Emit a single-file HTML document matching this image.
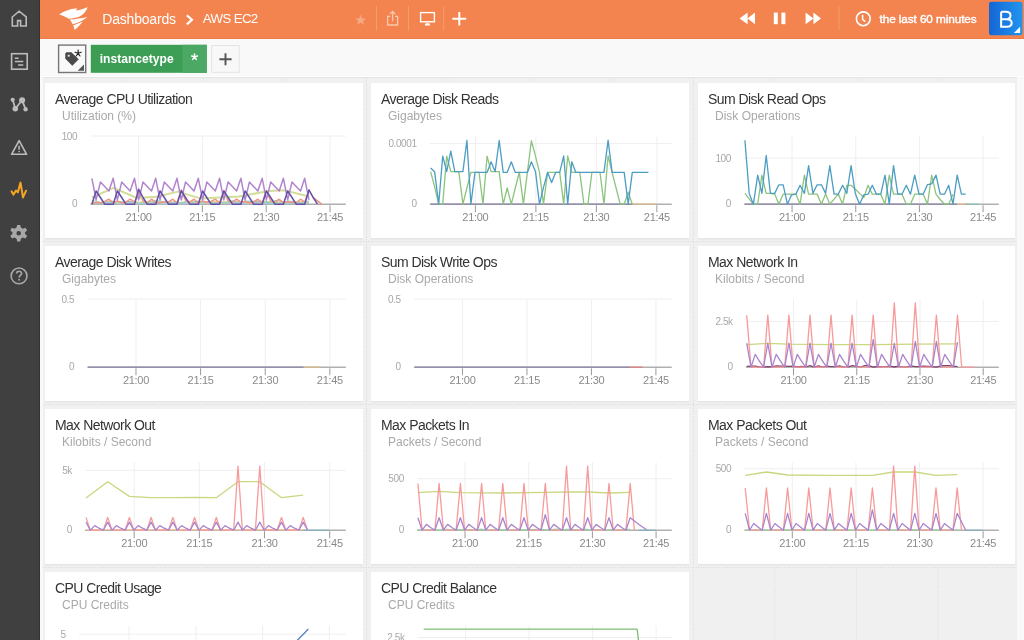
<!DOCTYPE html><html><head><meta charset="utf-8"><style>
*{box-sizing:border-box;margin:0;padding:0}
html,body{width:1024px;height:640px;overflow:hidden;background:#f9f9f9;font-family:"Liberation Sans", sans-serif}
.sb{position:absolute;left:0;top:0;width:40px;height:640px;background:#404040;border-right:1px solid #333}
.hd{position:absolute;will-change:transform;left:40px;top:0;width:984px;height:39px;background:#f3844f;border-bottom:1px solid #ef7a45}
.fb{position:absolute;will-change:transform;left:40px;top:39px;width:984px;height:38px;background:#f9f9f9;border-bottom:1px solid #fff}
.gc{position:absolute;left:43px;top:77px;width:974px;height:563px;background:#f0f0f0;border-top:1px solid #e4e4e4}
.panel{position:absolute;will-change:transform;width:317.6px;height:154.8px;background:#fff;box-shadow:0 1.5px 0 #e6e6e6}
.pt{position:absolute;left:10px;top:8.1px;font-size:14px;color:#333;white-space:nowrap;letter-spacing:-0.55px}
.ps{position:absolute;left:17px;top:26.2px;font-size:12px;color:#a9a9a9;white-space:nowrap}
.ch{position:absolute;left:0;top:0}
.xl{position:absolute;width:40px;text-align:center;font-size:11px;color:#8a8a8a;white-space:nowrap;letter-spacing:-0.3px}
.yl{position:absolute;text-align:right;font-size:10px;letter-spacing:-0.4px;color:#a8a8a8;white-space:nowrap}
.crumb{position:absolute;top:11px;font-size:13.5px;color:#fff;white-space:nowrap}
.tl{position:absolute;left:839.5px;top:11.6px;font-size:11.8px;color:#fff;letter-spacing:-0.1px;-webkit-text-stroke:0.4px #fff;white-space:nowrap}
.bl{position:absolute;left:949px;top:6px;width:33.8px;text-align:center;font-size:23px;color:#fff;line-height:26px}
.it{position:absolute;left:59.7px;top:12.6px;font-size:12.1px;color:#fff;font-weight:bold;white-space:nowrap}
.gv{position:absolute;top:79px;width:0;height:561px;border-left:1px dotted #d4d4d4}
.gh{position:absolute;left:41px;width:983px;height:0;border-top:1px dotted #d4d4d4}
</style></head><body><div class="sb"><svg width="40" height="640" viewBox="0 0 40 640" fill="none" stroke="#bcbcbc" stroke-width="1.6">
<path d="M12.3 26 V17 L19.1 11.2 L26.2 17 V26 H20.6 V20.6 H17.6 V26 Z" stroke-linejoin="miter"/>
<rect x="11.6" y="53.7" width="15.6" height="15.5"/>
<path d="M14.8 58.2 H18.6 M14.8 61.5 H23.3 M18.1 65 H23.3" stroke-width="1.5"/>
<g fill="#bcbcbc" stroke="none"><circle cx="12.7" cy="99.8" r="2.1"/><circle cx="15.3" cy="108.7" r="2.8"/><circle cx="22.1" cy="100.3" r="3"/><circle cx="25.6" cy="109.2" r="2.2"/></g>
<path d="M12.7 99.8 L15.3 108.7 L22.1 100.3 L25.6 109.2" stroke-width="1.8"/>
<path d="M19.1 140.6 L11.6 154.3 H26.6 Z" stroke-linejoin="round"/>
<path d="M19.1 145.8 V149.8" stroke-width="1.5"/><circle cx="19.1" cy="151.6" r="0.8" fill="#bcbcbc" stroke="none"/>
<path d="M11.6 191.4 L13.4 194.6 L16 190.5 L17.9 192.3 L20.5 182.6 L23 197.4 L26.1 190.7" stroke="#f5a623" stroke-width="2" stroke-linecap="round" stroke-linejoin="round"/>
<g transform="translate(18.7 233.2)" fill="#a8a8a8" stroke="none"><path d="M-1.6 -8.3 H1.6 L2.1 -5.6 L4.3 -4.4 L6.8 -5.4 L8.4 -2.6 L6.3 -0.9 V0.9 L8.4 2.6 L6.8 5.4 L4.3 4.4 L2.1 5.6 L1.6 8.3 H-1.6 L-2.1 5.6 L-4.3 4.4 L-6.8 5.4 L-8.4 2.6 L-6.3 0.9 V-0.9 L-8.4 -2.6 L-6.8 -5.4 L-4.3 -4.4 L-2.1 -5.6 Z M0 -2.3 A2.3 2.3 0 1 0 0 2.3 A2.3 2.3 0 1 0 0 -2.3 Z" fill-rule="evenodd"/></g>
<circle cx="19.05" cy="275.9" r="7.9" stroke="#a8a8a8" stroke-width="1.6"/>
<path d="M16.6 273.6 C16.6 270.6 21.6 270.6 21.6 273.4 C21.6 275.2 19.1 275.4 19.1 277.4" stroke="#a8a8a8" stroke-width="1.6"/><circle cx="19.1" cy="279.8" r="0.95" fill="#a8a8a8" stroke="none"/>
</svg></div><div class="hd">
<svg style="position:absolute;left:0;top:0" width="984" height="39" viewBox="40 0 984 39">
<g fill="#fff">
<path d="M59.1 14.4 C63.5 11 69.5 9 76.9 8.2 L76.2 10.5 C80 10.2 84 8.8 87.6 7.1 C86.4 11.4 83.6 14.6 79.6 16.4 C76 17.8 72 18.4 68.8 18.8 C66 17 62.5 15.3 59.1 14.4 Z"/>
<path d="M69.8 19.5 C75.5 19 81.5 18.2 87.5 16.9 C83.5 20 78.5 22.5 72.6 24.2 C71.8 22.5 70.9 20.9 69.8 19.5 Z"/>
<path d="M73.2 25.6 L82.8 21.6 C80.4 24.8 77.6 27.6 74.7 30 C74.4 28.4 73.9 27 73.2 25.6 Z"/>
</g>
<g fill="none" stroke="#fff" stroke-width="2.2" stroke-linecap="square"><path d="M187.7 16 L191.9 19.8 L187.7 23.6" stroke-linejoin="miter"/></g>
<path d="M360.6 14.4 L362 18.4 L366.2 18.5 L362.9 21 L364.1 25 L360.6 22.6 L357.1 25 L358.3 21 L355 18.5 L359.2 18.4 Z" fill="#fff" fill-opacity="0.3"/>
<g stroke="#fff" stroke-opacity="0.2" stroke-width="1"><path d="M376.5 6 V30.6 M408.5 6 V30.6 M443.7 6 V30.6 M839 5.5 V29.7"/></g>
<g fill="none" stroke="#fff" stroke-opacity="0.55" stroke-width="1.3"><path d="M390.3 16.3 H387.6 V25 H397.6 V16.3 H394.9 M392.6 11.6 V21.2 M389.9 14.1 L392.6 11.4 L395.3 14.1"/></g>
<rect x="420.6" y="12.6" width="13.8" height="9.2" fill="none" stroke="#fff" stroke-width="1.4"/>
<path d="M424.6 25.6 L425.8 23.3 H429.2 L430.4 25.6 Z" fill="#fff"/>
<path d="M452.4 18.8 H466.2 M459.3 11.9 V25.6" stroke="#fff" stroke-width="2"/>
<path d="M755 12.6 V24.2 L747.6 18.4 Z M747.6 12.6 V24.2 L739.6 18.4 Z" fill="#fff"/>
<rect x="773.8" y="12.6" width="4" height="11.6" fill="#fff"/><rect x="781.4" y="12.6" width="4" height="11.6" fill="#fff"/>
<path d="M805.6 12.6 V24.2 L813.4 18.4 Z M813.4 12.6 V24.2 L821 18.4 Z" fill="#fff"/>
<circle cx="863.3" cy="18.8" r="6.9" fill="none" stroke="#fff" stroke-width="1.6"/>
<path d="M862.6 14.8 V19.3 L865.2 21.6" fill="none" stroke="#fff" stroke-width="1.5"/>
<defs><linearGradient id="bg" x1="0" x2="1" y1="0" y2="0"><stop offset="0" stop-color="#1466d6"/><stop offset="1" stop-color="#2294ee"/></linearGradient></defs>
<rect x="989" y="1.8" width="33.5" height="33.5" rx="2.2" fill="url(#bg)"/>
<path d="M1020.1 26.8 V32.9 H1013.9 Z" fill="#fff"/>
<path d="M1001.15 11.75 V26.7 H1006.6 C1009.9 26.7 1011.7 25.1 1011.7 22.9 C1011.7 20.6 1009.9 19.2 1006.6 19.2 H1001.15 M1001.15 11.75 H1006 C1008.9 11.75 1010.5 13.1 1010.5 15.4 C1010.5 17.8 1008.9 19.2 1006 19.2" fill="none" stroke="#fff" stroke-width="2"/>
</svg>
<div class="crumb" style="left:62.3px;font-size:14px;letter-spacing:-0.2px">Dashboards</div>
<div class="crumb" style="left:162.8px;letter-spacing:-0.65px;font-size:13.3px;top:11.3px">AWS EC2</div>
<div class="tl">the last 60 minutes</div>
</div><div class="fb">
<svg style="position:absolute;left:0;top:0" width="984" height="38" viewBox="40 39 984 38">
<rect x="58.6" y="45.1" width="27.1" height="27.4" fill="#f9f9f9" stroke="#767676" stroke-width="1.4"/>
<path d="M66.9 52.6 H71.4 L78.4 59.3 L72.3 65.4 L65.6 58.7 V53.9 Q65.6 52.6 66.9 52.6 Z M68.8 54.5 A1.3 1.3 0 1 0 68.8 57.1 A1.3 1.3 0 1 0 68.8 54.5 Z" fill="#4a4a4a" fill-rule="evenodd" stroke="#4a4a4a" stroke-width="0.6" stroke-linejoin="round"/>
<path d="M78.1 53.3 V50 M78.1 53.3 L81.2 52.3 M78.1 53.3 L80 56 M78.1 53.3 L76.2 56 M78.1 53.3 L75 52.3" stroke="#222" stroke-width="1.15" stroke-linecap="round"/>
<path d="M84 64.6 V70.7 H77.6 Z" fill="#555"/>
<rect x="90.8" y="44.8" width="116" height="28" fill="#3c9e55"/>
<rect x="182.4" y="44.8" width="24.4" height="28" fill="#4ca865"/>
<path d="M194.5 56.9 V53.9 M194.5 56.9 L197.4 56 M194.5 56.9 L196.3 59.4 M194.5 56.9 L192.7 59.4 M194.5 56.9 L191.6 56" stroke="#fff" stroke-width="1.5" stroke-linecap="round"/>
<rect x="211.75" y="45.5" width="27.5" height="26.8" fill="#f8f8f8" stroke="#e4e4e4" stroke-width="1"/>
<path d="M219.4 59.2 H231.6 M225.5 53.2 V65.2" stroke="#555" stroke-width="1.9"/>
</svg>
<div class="it">instancetype</div>
</div><div class="gc"></div><svg style="position:absolute;left:0;top:0" width="1024" height="640"><g stroke="#d9d9d9" stroke-width="1" stroke-dasharray="1 1.6"><line x1="366.5" y1="78" x2="366.5" y2="640"/><line x1="693.4" y1="78" x2="693.4" y2="640"/><line x1="774.8" y1="567.5" x2="774.8" y2="640"/><line x1="856.4" y1="567.5" x2="856.4" y2="640"/><line x1="938.0" y1="567.5" x2="938.0" y2="640"/><line x1="121.2" y1="79.5" x2="121.2" y2="81"/><line x1="203.0" y1="79.5" x2="203.0" y2="81"/><line x1="284.4" y1="79.5" x2="284.4" y2="81"/><line x1="448.0" y1="79.5" x2="448.0" y2="81"/><line x1="530.0" y1="79.5" x2="530.0" y2="81"/><line x1="611.5" y1="79.5" x2="611.5" y2="81"/><line x1="774.8" y1="79.5" x2="774.8" y2="81"/><line x1="856.4" y1="79.5" x2="856.4" y2="81"/><line x1="938.0" y1="79.5" x2="938.0" y2="81"/><line x1="43" y1="241.5" x2="1017" y2="241.5"/><line x1="43" y1="404.5" x2="1017" y2="404.5"/><line x1="43" y1="567.5" x2="1017" y2="567.5"/></g></svg><div class="panel" style="left:44.9px;top:82.5px;width:317.8px"><div class="pt">Average CPU Utilization</div><div class="ps">Utilization (%)</div><svg class="ch" width="317.6" height="154.8" viewBox="0 0 317.6 154.8"><line x1="93.50" y1="53.50" x2="93.50" y2="121.25" stroke="#efefef" stroke-width="1"/><line x1="157.35" y1="53.50" x2="157.35" y2="121.25" stroke="#efefef" stroke-width="1"/><line x1="221.20" y1="53.50" x2="221.20" y2="121.25" stroke="#efefef" stroke-width="1"/><line x1="285.05" y1="53.50" x2="285.05" y2="121.25" stroke="#efefef" stroke-width="1"/><line x1="45.40" y1="53.10" x2="300.80" y2="53.10" stroke="#efefef" stroke-width="1"/><line x1="45.40" y1="121.25" x2="300.80" y2="121.25" stroke="#b0b0b0" stroke-width="1.6"/><polyline points="46.9,120.4 51.1,119.4 55.4,119.5 59.7,120.2 63.9,119.9 68.2,120.0 72.4,119.7 76.7,119.5 80.9,120.4 85.2,120.5 89.5,119.4 93.7,120.0 98.0,119.5 102.2,120.6 106.5,120.0 110.7,119.6 115.0,120.3 119.3,119.3 123.5,119.4 127.8,120.5 132.0,120.5 136.3,119.8 140.5,119.3 144.8,120.1 149.0,120.3 153.3,120.0 157.6,120.5 161.8,120.3 166.1,120.0 170.3,119.9 174.6,120.3 178.8,120.3 183.1,120.3 187.4,119.9 191.6,120.2 195.9,120.5 200.1,119.4 204.4,119.8 208.6,119.7 212.9,120.3 217.2,119.2 221.4,119.4 225.7,120.4 229.9,120.1 234.2,119.6 238.4,119.6 242.7,119.3 247.0,120.0 251.2,119.4 255.5,119.7 259.7,120.2 264.0,119.8" fill="none" stroke="#f3cc88" stroke-width="1.2" stroke-linejoin="round"/><polyline points="46.9,118.0 51.1,118.0 55.4,119.8 59.7,119.7 63.9,118.2 68.2,118.4 72.4,118.5 76.7,119.3 80.9,118.7 85.2,118.7 89.5,118.7 93.7,119.6 98.0,119.0 102.2,119.1 106.5,118.4 110.7,117.9 115.0,118.0 119.3,118.8 123.5,119.0 127.8,119.3 132.0,119.8 136.3,119.8 140.5,119.0 144.8,119.2 149.0,119.1 153.3,118.1 157.6,118.8 161.8,118.8 166.1,119.4 170.3,119.8 174.6,119.2 178.8,119.6 183.1,118.9 187.4,117.9 191.6,118.5 195.9,119.5 200.1,118.1 204.4,118.3 208.6,118.4 212.9,118.1 217.2,118.3 221.4,118.3 225.7,119.2 229.9,117.9 234.2,117.9 238.4,119.6 242.7,118.4 247.0,118.4 251.2,119.0 255.5,118.8 259.7,118.9 264.0,118.0" fill="none" stroke="#86cbc4" stroke-width="1.2" stroke-linejoin="round"/><polyline points="46.9,119.6 51.1,119.2 55.4,119.4 59.7,119.1 63.9,119.0 68.2,119.8 72.4,119.9 76.7,118.8 80.9,119.5 85.2,119.6 89.5,118.5 93.7,119.3 98.0,118.8 102.2,119.2 106.5,119.0 110.7,119.7 115.0,119.0 119.3,118.7 123.5,119.2 127.8,118.9 132.0,119.0 136.3,119.8 140.5,118.9 144.8,119.1 149.0,119.5 153.3,119.9 157.6,118.7 161.8,119.3 166.1,118.9 170.3,118.7 174.6,118.9 178.8,118.6 183.1,119.4 187.4,118.8 191.6,119.3 195.9,118.6 200.1,118.7 204.4,119.8 208.6,119.7 212.9,119.6 217.2,118.6 221.4,119.3 225.7,119.0 229.9,119.5 234.2,119.2 238.4,119.4 242.7,119.4 247.0,119.1 251.2,119.1 255.5,118.7 259.7,119.0" fill="none" stroke="#e9dc88" stroke-width="1.2" stroke-linejoin="round"/><polyline points="46.9,120.1 51.1,120.4 55.4,119.8 59.7,120.3 63.9,120.4 68.2,119.8 72.4,118.7 76.7,118.9 80.9,119.0 85.2,120.1 89.5,119.5 93.7,120.0 98.0,120.2 102.2,120.4 106.5,120.1 110.7,118.7 115.0,118.9 119.3,118.9 123.5,118.9 127.8,120.2 132.0,119.9 136.3,119.3 140.5,119.1 144.8,118.8 149.0,118.8 153.3,120.4 157.6,119.3 161.8,119.2 166.1,119.5 170.3,120.2 174.6,119.6 178.8,120.4 183.1,118.7 187.4,118.8 191.6,119.5 195.9,120.0 200.1,118.7 204.4,119.4 208.6,118.8 212.9,118.8 217.2,119.5 221.4,119.7 225.7,119.4 229.9,119.7 234.2,120.2 238.4,120.0 242.7,118.9 247.0,120.5 251.2,120.5 255.5,119.3 259.7,120.0 264.0,119.5" fill="none" stroke="#9fd2a6" stroke-width="1.2" stroke-linejoin="round"/><polyline points="46.9,120.0 51.1,119.7 55.4,119.6 59.7,119.3 63.9,119.7 68.2,119.4 72.4,121.2 76.7,120.3 80.9,119.3 85.2,119.9 89.5,119.4 93.7,121.0 98.0,120.3 102.2,120.7 106.5,120.1 110.7,120.1 115.0,121.2 119.3,120.8 123.5,120.7 127.8,119.4 132.0,119.7 136.3,120.9 140.5,119.6 144.8,121.0 149.0,120.0 153.3,121.0 157.6,121.2 161.8,119.5 166.1,120.8 170.3,120.8 174.6,119.3 178.8,119.5 183.1,120.7 187.4,119.3 191.6,120.2 195.9,119.9 200.1,120.8 204.4,119.3 208.6,119.8 212.9,119.3 217.2,119.4 221.4,120.6 225.7,120.5 229.9,120.9 234.2,121.0 238.4,121.1 242.7,120.6 247.0,120.0 251.2,121.2 255.5,119.9 259.7,120.6 264.0,120.6" fill="none" stroke="#a0c4dc" stroke-width="1.2" stroke-linejoin="round"/><polyline points="46.9,121.2 51.1,119.2 55.4,119.9 59.7,118.5 63.9,116.2 68.2,119.9 72.4,117.9 76.7,119.9 80.9,119.2 85.2,116.2 89.5,119.2 93.7,109.1 98.0,117.9 102.2,119.9 106.5,116.2 110.7,119.2 115.0,119.9 119.3,118.5 123.5,119.2 127.8,116.2 132.0,119.9 136.3,107.0 140.5,117.2 144.8,119.2 149.0,116.2 153.3,119.9 157.6,117.9 161.8,119.2 166.1,118.5 170.3,116.2 174.6,119.9 178.8,107.7 183.1,117.9 187.4,119.2 191.6,116.2 195.9,119.2 200.1,118.5 204.4,119.9 208.6,119.2 212.9,116.2 217.2,119.9 221.4,107.7 225.7,117.9 229.9,119.2 234.2,116.2 238.4,119.9 242.7,118.5 247.0,119.2 251.2,119.9 255.5,116.2 259.7,119.2 264.0,107.0 268.2,114.5 272.5,117.9 276.7,121.2" fill="none" stroke="#f39284" stroke-width="1.5" stroke-linejoin="round"/><polyline points="46.9,114.5 68.6,104.8 92.0,115.0 111.2,113.8 132.9,108.6 155.9,115.6 174.6,114.5 193.7,113.5 224.0,107.9 238.9,107.2 261.0,112.7" fill="none" stroke="#d3dd98" stroke-width="2" stroke-linejoin="round"/><polyline points="46.9,95.3 51.1,116.9 55.4,99.1 59.7,103.5 63.9,108.0 68.2,95.3 72.4,116.9 76.7,99.1 80.9,103.5 85.2,108.0 89.5,95.3 93.7,116.9 98.0,99.1 102.2,103.5 106.5,108.0 110.7,95.3 115.0,116.9 119.3,99.1 123.5,103.5 127.8,108.0 132.0,95.3 136.3,116.9 140.5,99.1 144.8,103.5 149.0,108.0 153.3,95.3 157.6,116.9 161.8,99.1 166.1,103.5 170.3,108.0 174.6,95.3 178.8,116.9 183.1,99.1 187.4,103.5 191.6,108.0 195.9,95.3 200.1,116.9 204.4,99.1 208.6,103.5 212.9,108.0 217.2,95.3 221.4,116.9 225.7,99.1 229.9,103.5 234.2,108.0 238.4,95.3 242.7,116.9 247.0,99.1 251.2,103.5 255.5,108.0 259.7,95.3 264.0,116.9" fill="none" stroke="#b085ce" stroke-width="1.5" stroke-linejoin="round"/><polyline points="46.9,121.2 51.1,108.0 55.4,114.5 59.7,121.2 63.9,121.2 68.2,121.2 72.4,108.0 76.7,114.5 80.9,121.2 85.2,121.2 89.5,121.2 93.7,106.3 98.0,114.5 102.2,121.2 106.5,121.2 110.7,121.2 115.0,108.0 119.3,114.5 123.5,121.2 127.8,121.2 132.0,121.2 136.3,107.7 140.5,114.5 144.8,121.2 149.0,121.2 153.3,121.2 157.6,108.0 161.8,114.5 166.1,121.2 170.3,121.2 174.6,121.2 178.8,108.0 183.1,114.5 187.4,121.2 191.6,121.2 195.9,121.2 200.1,108.0 204.4,114.5 208.6,121.2 212.9,121.2 217.2,121.2 221.4,108.0 225.7,114.5 229.9,121.2 234.2,121.2 238.4,121.2 242.7,108.0 247.0,114.5 251.2,121.2 255.5,121.2 259.7,121.2 264.0,107.0 268.2,114.5 272.5,121.2" fill="none" stroke="#6251a8" stroke-width="1.5" stroke-linejoin="round"/><line x1="93.50" y1="122.25" x2="93.50" y2="129.25" stroke="#9a9a9a" stroke-width="1"/><line x1="157.35" y1="122.25" x2="157.35" y2="129.25" stroke="#9a9a9a" stroke-width="1"/><line x1="221.20" y1="122.25" x2="221.20" y2="129.25" stroke="#9a9a9a" stroke-width="1"/><line x1="285.05" y1="122.25" x2="285.05" y2="129.25" stroke="#9a9a9a" stroke-width="1"/></svg><div class="xl" style="left:73.50px;top:127.65px">21:00</div><div class="xl" style="left:137.35px;top:127.65px">21:15</div><div class="xl" style="left:201.20px;top:127.65px">21:30</div><div class="xl" style="left:265.05px;top:127.65px">21:45</div><div class="yl" style="left:0px;width:32.20px;top:47.60px">100</div><div class="yl" style="left:0px;width:32.20px;top:114.90px">0</div></div><div class="panel" style="left:371.2px;top:82.5px;width:318.2px"><div class="pt">Average Disk Reads</div><div class="ps">Gigabytes</div><svg class="ch" width="317.6" height="154.8" viewBox="0 0 317.6 154.8"><line x1="104.38" y1="53.50" x2="104.38" y2="121.25" stroke="#efefef" stroke-width="1"/><line x1="164.88" y1="53.50" x2="164.88" y2="121.25" stroke="#efefef" stroke-width="1"/><line x1="225.38" y1="53.50" x2="225.38" y2="121.25" stroke="#efefef" stroke-width="1"/><line x1="285.88" y1="53.50" x2="285.88" y2="121.25" stroke="#efefef" stroke-width="1"/><line x1="58.80" y1="60.60" x2="300.80" y2="60.60" stroke="#efefef" stroke-width="1"/><line x1="58.80" y1="121.25" x2="300.80" y2="121.25" stroke="#b0b0b0" stroke-width="1.6"/><polyline points="59.6,121.2 63.6,121.2 67.7,121.2 71.7,121.2 75.7,121.2 79.8,121.2 83.8,121.2 87.8,121.2 91.9,121.2 95.9,121.2 99.9,121.2 104.0,121.2 108.0,121.2 112.0,121.2 116.1,121.2 120.1,121.2 124.1,121.2 128.2,121.2 132.2,121.2 136.2,121.2 140.3,121.2 144.3,121.2 148.3,121.2 152.4,121.2 156.4,121.2 160.4,121.2 164.5,121.2 168.5,121.2 172.5,121.2 176.6,121.2 180.6,121.2 184.6,121.2 188.7,121.2 192.7,121.2 196.7,121.2 200.8,121.2 204.8,121.2 208.8,121.2 212.9,121.2 216.9,121.2 220.9,121.2 225.0,121.2 229.0,121.2 233.0,121.2 237.1,121.2 241.1,121.2 245.1,121.2 249.2,121.2 253.2,121.2 257.2,121.2 261.3,121.2" fill="none" stroke="#8c84a8" stroke-width="1.3" stroke-linejoin="round"/><polyline points="261.3,121.2 285.5,121.2" fill="none" stroke="#d8b88a" stroke-width="1.3" stroke-linejoin="round"/><polyline points="59.6,88.7 63.6,103.6 67.7,121.2 71.7,121.2 75.7,73.1 79.8,88.7 83.8,88.7 87.8,88.7 91.9,121.2 95.9,105.0 99.9,89.4 104.0,89.4 108.0,89.4 112.0,121.2 116.1,73.1 120.1,88.7 124.1,88.7 128.2,88.7 132.2,121.2 136.2,105.0 140.3,121.2 144.3,105.0 148.3,89.4 152.4,121.2 156.4,89.4 160.4,57.6 164.5,73.1 168.5,89.4 172.5,121.2 176.6,89.4 180.6,89.4 184.6,89.4 188.7,89.4 192.7,121.2 196.7,72.8 200.8,89.4 204.8,89.4 208.8,89.4 212.9,121.2 216.9,121.2 220.9,89.4 225.0,89.4 229.0,89.4 233.0,121.2 237.1,72.8 241.1,89.4 245.1,105.0 249.2,121.2 253.2,121.2 257.2,109.1 261.3,121.2" fill="none" stroke="#8cc47d" stroke-width="1.3" stroke-linejoin="round"/><polyline points="59.6,85.0 63.6,88.7 67.7,121.2 71.7,73.1 75.7,88.7 79.8,68.1 83.8,88.7 87.8,88.7 91.9,88.7 95.9,57.5 99.9,121.2 104.0,89.4 108.0,89.4 112.0,89.4 116.1,89.4 120.1,78.8 124.1,88.7 128.2,57.5 132.2,89.4 136.2,89.4 140.3,78.8 144.3,89.4 148.3,89.4 152.4,89.4 156.4,89.4 160.4,78.8 164.5,88.7 168.5,121.2 172.5,104.3 176.6,89.4 180.6,99.6 184.6,89.4 188.7,89.4 192.7,72.8 196.7,121.2 200.8,78.7 204.8,89.4 208.8,89.4 212.9,89.4 216.9,89.4 220.9,89.4 225.0,89.4 229.0,89.4 233.0,89.4 237.1,57.1 241.1,89.4 245.1,89.4 249.2,89.4 253.2,89.4 257.2,121.2 261.3,89.4 265.3,89.4 269.3,89.4 273.4,89.4 277.4,89.4" fill="none" stroke="#4c9dc4" stroke-width="1.3" stroke-linejoin="round"/><line x1="104.38" y1="122.25" x2="104.38" y2="129.25" stroke="#9a9a9a" stroke-width="1"/><line x1="164.88" y1="122.25" x2="164.88" y2="129.25" stroke="#9a9a9a" stroke-width="1"/><line x1="225.38" y1="122.25" x2="225.38" y2="129.25" stroke="#9a9a9a" stroke-width="1"/><line x1="285.88" y1="122.25" x2="285.88" y2="129.25" stroke="#9a9a9a" stroke-width="1"/></svg><div class="xl" style="left:84.38px;top:127.65px">21:00</div><div class="xl" style="left:144.88px;top:127.65px">21:15</div><div class="xl" style="left:205.38px;top:127.65px">21:30</div><div class="xl" style="left:265.88px;top:127.65px">21:45</div><div class="yl" style="left:0px;width:45.60px;top:55.10px">0.0001</div><div class="yl" style="left:0px;width:45.60px;top:114.90px">0</div></div><div class="panel" style="left:697.5px;top:82.5px;width:316.6px"><div class="pt">Sum Disk Read Ops</div><div class="ps">Disk Operations</div><svg class="ch" width="317.6" height="154.8" viewBox="0 0 317.6 154.8"><line x1="94.07" y1="53.50" x2="94.07" y2="121.25" stroke="#efefef" stroke-width="1"/><line x1="157.74" y1="53.50" x2="157.74" y2="121.25" stroke="#efefef" stroke-width="1"/><line x1="221.42" y1="53.50" x2="221.42" y2="121.25" stroke="#efefef" stroke-width="1"/><line x1="285.09" y1="53.50" x2="285.09" y2="121.25" stroke="#efefef" stroke-width="1"/><line x1="46.10" y1="75.10" x2="300.80" y2="75.10" stroke="#efefef" stroke-width="1"/><line x1="46.10" y1="121.25" x2="300.80" y2="121.25" stroke="#b0b0b0" stroke-width="1.6"/><polyline points="46.9,121.2 51.2,121.2 55.4,121.2 59.7,121.2 63.9,121.2 68.2,121.2 72.4,121.2 76.7,121.2 80.9,121.2 85.2,121.2 89.4,121.2 93.6,121.2 97.9,121.2 102.1,121.2 106.4,121.2 110.6,121.2 114.9,121.2 119.1,121.2 123.4,121.2 127.6,121.2 131.8,121.2 136.1,121.2 140.3,121.2 144.6,121.2 148.8,121.2 153.1,121.2 157.3,121.2 161.6,121.2 165.8,121.2 170.1,121.2 174.3,121.2 178.5,121.2 182.8,121.2 187.0,121.2 191.3,121.2 195.5,121.2 199.8,121.2 204.0,121.2 208.3,121.2 212.5,121.2 216.7,121.2 221.0,121.2 225.2,121.2 229.5,121.2 233.7,121.2 238.0,121.2 242.2,121.2 246.5,121.2 250.7,121.2 255.0,121.2 259.2,121.2" fill="none" stroke="#8c84a8" stroke-width="1.3" stroke-linejoin="round"/><polyline points="259.2,121.2 271.9,121.2" fill="none" stroke="#d8b88a" stroke-width="1.3" stroke-linejoin="round"/><polyline points="267.7,121.2 280.4,121.2" fill="none" stroke="#7fc0b8" stroke-width="1.1" stroke-linejoin="round"/><polyline points="46.9,110.4 51.2,115.8 55.4,121.2 59.7,121.2 63.9,92.1 68.2,110.4 72.4,110.4 76.7,111.1 80.9,121.2 85.2,111.1 89.4,111.1 93.6,111.1 97.9,111.1 102.1,121.2 106.4,92.1 110.6,111.1 114.9,111.1 119.1,111.1 123.4,121.2 127.6,111.1 131.8,121.2 136.1,116.2 140.3,111.1 144.6,121.2 148.8,102.3 153.1,102.3 157.3,106.3 161.6,110.4 165.8,114.5 170.1,102.3 174.3,111.2 178.5,111.2 182.8,111.2 187.0,121.2 191.3,92.1 195.5,111.2 199.8,111.2 204.0,111.2 208.3,121.2 212.5,121.2 216.7,111.2 221.0,111.2 225.2,111.2 229.5,121.2 233.7,92.1 238.0,111.2 242.2,116.5 246.5,121.2 250.7,121.2 255.0,111.2" fill="none" stroke="#8cc47d" stroke-width="1.3" stroke-linejoin="round"/><polyline points="46.9,57.2 51.2,110.4 55.4,121.2 59.7,92.1 63.9,110.4 68.2,72.5 72.4,110.4 76.7,110.4 80.9,101.8 85.2,101.8 89.4,121.2 93.6,111.8 97.9,111.1 102.1,102.3 106.4,110.4 110.6,82.6 114.9,110.4 119.1,101.8 123.4,101.8 127.6,110.4 131.8,82.6 136.1,111.1 140.3,111.1 144.6,102.3 148.8,110.4 153.1,82.6 157.3,110.4 161.6,121.2 165.8,111.8 170.1,111.2 174.3,102.3 178.5,111.2 182.8,111.2 187.0,92.1 191.3,121.2 195.5,82.6 199.8,111.2 204.0,111.2 208.3,102.3 212.5,111.2 216.7,92.1 221.0,111.2 225.2,111.2 229.5,101.6 233.7,100.9 238.0,92.1 242.2,111.2 246.5,111.2 250.7,102.3 255.0,121.2 259.2,92.1 263.4,111.2 267.7,111.2" fill="none" stroke="#4c9dc4" stroke-width="1.3" stroke-linejoin="round"/><line x1="94.07" y1="122.25" x2="94.07" y2="129.25" stroke="#9a9a9a" stroke-width="1"/><line x1="157.74" y1="122.25" x2="157.74" y2="129.25" stroke="#9a9a9a" stroke-width="1"/><line x1="221.42" y1="122.25" x2="221.42" y2="129.25" stroke="#9a9a9a" stroke-width="1"/><line x1="285.09" y1="122.25" x2="285.09" y2="129.25" stroke="#9a9a9a" stroke-width="1"/></svg><div class="xl" style="left:74.07px;top:127.65px">21:00</div><div class="xl" style="left:137.74px;top:127.65px">21:15</div><div class="xl" style="left:201.42px;top:127.65px">21:30</div><div class="xl" style="left:265.09px;top:127.65px">21:45</div><div class="yl" style="left:0px;width:32.90px;top:69.60px">100</div><div class="yl" style="left:0px;width:32.90px;top:114.90px">0</div></div><div class="panel" style="left:44.9px;top:245.5px;width:317.8px"><div class="pt">Average Disk Writes</div><div class="ps">Gigabytes</div><svg class="ch" width="317.6" height="154.8" viewBox="0 0 317.6 154.8"><line x1="90.98" y1="53.50" x2="90.98" y2="121.25" stroke="#efefef" stroke-width="1"/><line x1="155.61" y1="53.50" x2="155.61" y2="121.25" stroke="#efefef" stroke-width="1"/><line x1="220.23" y1="53.50" x2="220.23" y2="121.25" stroke="#efefef" stroke-width="1"/><line x1="284.86" y1="53.50" x2="284.86" y2="121.25" stroke="#efefef" stroke-width="1"/><line x1="42.30" y1="53.10" x2="300.80" y2="53.10" stroke="#efefef" stroke-width="1"/><line x1="42.30" y1="121.25" x2="300.80" y2="121.25" stroke="#b0b0b0" stroke-width="1.6"/><polyline points="43.2,121.2 47.5,121.2 51.8,121.2 56.1,121.2 60.4,121.2 64.7,121.2 69.0,121.2 73.3,121.2 77.6,121.2 81.9,121.2 86.2,121.2 90.6,121.2 94.9,121.2 99.2,121.2 103.5,121.2 107.8,121.2 112.1,121.2 116.4,121.2 120.7,121.2 125.0,121.2 129.3,121.2 133.6,121.2 137.9,121.2 142.3,121.2 146.6,121.2 150.9,121.2 155.2,121.2 159.5,121.2 163.8,121.2 168.1,121.2 172.4,121.2 176.7,121.2 181.0,121.2 185.3,121.2 189.6,121.2 194.0,121.2 198.3,121.2 202.6,121.2 206.9,121.2 211.2,121.2 215.5,121.2 219.8,121.2 224.1,121.2 228.4,121.2 232.7,121.2 237.0,121.2 241.3,121.2 245.7,121.2 250.0,121.2 254.3,121.2 258.6,121.2" fill="none" stroke="#8c84a8" stroke-width="1.3" stroke-linejoin="round"/><polyline points="258.6,121.2 275.8,121.2" fill="none" stroke="#d8b88a" stroke-width="1.3" stroke-linejoin="round"/><line x1="90.98" y1="122.25" x2="90.98" y2="129.25" stroke="#9a9a9a" stroke-width="1"/><line x1="155.61" y1="122.25" x2="155.61" y2="129.25" stroke="#9a9a9a" stroke-width="1"/><line x1="220.23" y1="122.25" x2="220.23" y2="129.25" stroke="#9a9a9a" stroke-width="1"/><line x1="284.86" y1="122.25" x2="284.86" y2="129.25" stroke="#9a9a9a" stroke-width="1"/></svg><div class="xl" style="left:70.98px;top:127.65px">21:00</div><div class="xl" style="left:135.61px;top:127.65px">21:15</div><div class="xl" style="left:200.23px;top:127.65px">21:30</div><div class="xl" style="left:264.86px;top:127.65px">21:45</div><div class="yl" style="left:0px;width:29.10px;top:47.60px">0.5</div><div class="yl" style="left:0px;width:29.10px;top:114.90px">0</div></div><div class="panel" style="left:371.2px;top:245.5px;width:318.2px"><div class="pt">Sum Disk Write Ops</div><div class="ps">Disk Operations</div><svg class="ch" width="317.6" height="154.8" viewBox="0 0 317.6 154.8"><line x1="91.47" y1="53.50" x2="91.47" y2="121.25" stroke="#efefef" stroke-width="1"/><line x1="155.95" y1="53.50" x2="155.95" y2="121.25" stroke="#efefef" stroke-width="1"/><line x1="220.42" y1="53.50" x2="220.42" y2="121.25" stroke="#efefef" stroke-width="1"/><line x1="284.90" y1="53.50" x2="284.90" y2="121.25" stroke="#efefef" stroke-width="1"/><line x1="42.90" y1="53.10" x2="300.80" y2="53.10" stroke="#efefef" stroke-width="1"/><line x1="42.90" y1="121.25" x2="300.80" y2="121.25" stroke="#b0b0b0" stroke-width="1.6"/><polyline points="43.8,121.2 48.1,121.2 52.4,121.2 56.7,121.2 61.0,121.2 65.3,121.2 69.5,121.2 73.8,121.2 78.1,121.2 82.4,121.2 86.7,121.2 91.0,121.2 95.3,121.2 99.6,121.2 103.9,121.2 108.2,121.2 112.5,121.2 116.8,121.2 121.1,121.2 125.4,121.2 129.7,121.2 134.0,121.2 138.3,121.2 142.6,121.2 146.9,121.2 151.2,121.2 155.5,121.2 159.8,121.2 164.1,121.2 168.4,121.2 172.7,121.2 177.0,121.2 181.3,121.2 185.6,121.2 189.9,121.2 194.2,121.2 198.5,121.2 202.8,121.2 207.1,121.2 211.4,121.2 215.7,121.2 220.0,121.2 224.3,121.2 228.6,121.2 232.9,121.2 237.2,121.2 241.5,121.2 245.8,121.2 250.1,121.2 254.4,121.2 258.7,121.2" fill="none" stroke="#8c84a8" stroke-width="1.3" stroke-linejoin="round"/><polyline points="258.7,121.2 271.6,121.2" fill="none" stroke="#e07f7f" stroke-width="1.3" stroke-linejoin="round"/><line x1="91.47" y1="122.25" x2="91.47" y2="129.25" stroke="#9a9a9a" stroke-width="1"/><line x1="155.95" y1="122.25" x2="155.95" y2="129.25" stroke="#9a9a9a" stroke-width="1"/><line x1="220.42" y1="122.25" x2="220.42" y2="129.25" stroke="#9a9a9a" stroke-width="1"/><line x1="284.90" y1="122.25" x2="284.90" y2="129.25" stroke="#9a9a9a" stroke-width="1"/></svg><div class="xl" style="left:71.47px;top:127.65px">21:00</div><div class="xl" style="left:135.95px;top:127.65px">21:15</div><div class="xl" style="left:200.42px;top:127.65px">21:30</div><div class="xl" style="left:264.90px;top:127.65px">21:45</div><div class="yl" style="left:0px;width:29.70px;top:47.60px">0.5</div><div class="yl" style="left:0px;width:29.70px;top:114.90px">0</div></div><div class="panel" style="left:697.5px;top:245.5px;width:316.6px"><div class="pt">Max Network In</div><div class="ps">Kilobits / Second</div><svg class="ch" width="317.6" height="154.8" viewBox="0 0 317.6 154.8"><line x1="95.53" y1="53.50" x2="95.53" y2="121.25" stroke="#efefef" stroke-width="1"/><line x1="158.75" y1="53.50" x2="158.75" y2="121.25" stroke="#efefef" stroke-width="1"/><line x1="221.98" y1="53.50" x2="221.98" y2="121.25" stroke="#efefef" stroke-width="1"/><line x1="285.20" y1="53.50" x2="285.20" y2="121.25" stroke="#efefef" stroke-width="1"/><line x1="47.90" y1="75.40" x2="300.80" y2="75.40" stroke="#efefef" stroke-width="1"/><line x1="47.90" y1="121.25" x2="300.80" y2="121.25" stroke="#b0b0b0" stroke-width="1.6"/><polyline points="48.7,120.9 53.0,120.9 57.2,120.6 61.4,120.9 65.6,120.9 69.8,120.9 74.0,121.1 78.2,120.9 82.5,120.8 86.7,120.7 90.9,121.2 95.1,121.0 99.3,121.2 103.5,120.7 107.8,120.8 112.0,121.2 116.2,120.6 120.4,120.6 124.6,120.8 128.8,120.8 133.0,121.1 137.3,121.2 141.5,120.9 145.7,121.2 149.9,121.1 154.1,121.1 158.3,121.2 162.5,120.9 166.8,121.0 171.0,120.7 175.2,120.9 179.4,120.8 183.6,120.9 187.8,120.8 192.1,120.9 196.3,121.1 200.5,120.6 204.7,120.6 208.9,120.7 213.1,120.8 217.3,121.0 221.6,121.1 225.8,121.1 230.0,121.2 234.2,120.7 238.4,121.0 242.6,120.7 246.8,121.0 251.1,120.6 255.3,120.7 259.5,121.2" fill="none" stroke="#a8d4a0" stroke-width="1.3" stroke-linejoin="round"/><polyline points="48.7,120.4 53.0,120.1 57.2,120.1 61.4,121.0 65.6,121.2 69.8,120.6 74.0,120.8 78.2,119.9 82.5,120.1 86.7,120.2 90.9,120.3 95.1,120.1 99.3,121.0 103.5,120.5 107.8,121.0 112.0,119.7 116.2,121.2 120.4,119.9 124.6,121.1 128.8,120.1 133.0,120.7 137.3,120.6 141.5,119.8 145.7,121.2 149.9,121.1 154.1,119.7 158.3,120.4 162.5,121.1 166.8,119.6 171.0,119.6 175.2,121.1 179.4,120.5 183.6,121.0 187.8,120.7 192.1,120.2 196.3,121.0 200.5,120.1 204.7,121.2 208.9,121.0 213.1,119.9 217.3,120.6 221.6,120.5 225.8,120.2 230.0,120.4 234.2,120.6 238.4,121.2 242.6,120.0 246.8,119.6 251.1,119.6 255.3,120.1 259.5,120.6" fill="none" stroke="#8e3a7a" stroke-width="1.3" stroke-linejoin="round"/><polyline points="48.7,98.6 69.8,97.4 90.9,98.2 133.0,98.6 175.2,98.6 217.3,98.1 259.5,97.9" fill="none" stroke="#cbd67f" stroke-width="1.3" stroke-linejoin="round"/><polyline points="48.7,69.1 53.0,121.2 57.2,121.2 61.4,121.2 65.6,121.2 69.8,69.1 74.0,121.2 78.2,121.2 82.5,121.2 86.7,121.2 90.9,69.1 95.1,121.2 99.3,121.2 103.5,121.2 107.8,121.2 112.0,69.1 116.2,121.2 120.4,121.2 124.6,121.2 128.8,121.2 133.0,69.1 137.3,121.2 141.5,121.2 145.7,121.2 149.9,121.2 154.1,69.1 158.3,121.2 162.5,121.2 166.8,121.2 171.0,121.2 175.2,69.1 179.4,121.2 183.6,121.2 187.8,121.2 192.1,121.2 196.3,56.9 200.5,121.2 204.7,121.2 208.9,121.2 213.1,121.2 217.3,56.9 221.6,121.2 225.8,121.2 230.0,121.2 234.2,121.2 238.4,69.1 242.6,121.2 246.8,121.2 251.1,121.2 255.3,121.2 259.5,69.1 263.7,121.2 276.4,121.2" fill="none" stroke="#f79a9a" stroke-width="1.3" stroke-linejoin="round"/><polyline points="48.7,97.1 53.0,121.2 57.2,108.4 61.4,115.2 65.6,121.2 69.8,97.1 74.0,121.2 78.2,108.4 82.5,115.2 86.7,121.2 90.9,97.1 95.1,121.2 99.3,108.4 103.5,115.2 107.8,121.2 112.0,97.1 116.2,121.2 120.4,108.4 124.6,115.2 128.8,121.2 133.0,97.1 137.3,121.2 141.5,108.4 145.7,115.2 149.9,121.2 154.1,97.1 158.3,121.2 162.5,108.4 166.8,115.2 171.0,121.2 175.2,93.5 179.4,121.2 183.6,108.4 187.8,115.2 192.1,121.2 196.3,97.5 200.5,121.2 204.7,108.4 208.9,115.2 213.1,121.2 217.3,95.5 221.6,121.2 225.8,108.4 230.0,115.2 234.2,121.2 238.4,95.5 242.6,121.2 246.8,108.4 251.1,115.2 255.3,121.2 259.5,96.2" fill="none" stroke="#a985cf" stroke-width="1.3" stroke-linejoin="round"/><line x1="95.53" y1="122.25" x2="95.53" y2="129.25" stroke="#9a9a9a" stroke-width="1"/><line x1="158.75" y1="122.25" x2="158.75" y2="129.25" stroke="#9a9a9a" stroke-width="1"/><line x1="221.98" y1="122.25" x2="221.98" y2="129.25" stroke="#9a9a9a" stroke-width="1"/><line x1="285.20" y1="122.25" x2="285.20" y2="129.25" stroke="#9a9a9a" stroke-width="1"/></svg><div class="xl" style="left:75.53px;top:127.65px">21:00</div><div class="xl" style="left:138.75px;top:127.65px">21:15</div><div class="xl" style="left:201.98px;top:127.65px">21:30</div><div class="xl" style="left:265.20px;top:127.65px">21:45</div><div class="yl" style="left:0px;width:34.70px;top:69.90px">2.5k</div><div class="yl" style="left:0px;width:34.70px;top:114.90px">0</div></div><div class="panel" style="left:44.9px;top:408.5px;width:317.8px"><div class="pt">Max Network Out</div><div class="ps">Kilobits / Second</div><svg class="ch" width="317.6" height="154.8" viewBox="0 0 317.6 154.8"><line x1="89.20" y1="53.50" x2="89.20" y2="121.25" stroke="#efefef" stroke-width="1"/><line x1="154.37" y1="53.50" x2="154.37" y2="121.25" stroke="#efefef" stroke-width="1"/><line x1="219.55" y1="53.50" x2="219.55" y2="121.25" stroke="#efefef" stroke-width="1"/><line x1="284.72" y1="53.50" x2="284.72" y2="121.25" stroke="#efefef" stroke-width="1"/><line x1="40.10" y1="61.30" x2="300.80" y2="61.30" stroke="#efefef" stroke-width="1"/><line x1="40.10" y1="121.25" x2="300.80" y2="121.25" stroke="#b0b0b0" stroke-width="1.6"/><polyline points="41.0,120.8 45.3,120.6 49.7,120.6 54.0,120.7 58.3,120.8 62.7,120.5 67.0,120.5 71.4,120.7 75.7,120.7 80.1,120.8 84.4,120.9 88.8,120.7 93.1,120.6 97.5,120.9 101.8,120.5 106.1,120.8 110.5,120.8 114.8,120.9 119.2,120.4 123.5,120.6 127.9,120.5 132.2,120.6 136.6,120.9 140.9,120.8 145.2,120.7 149.6,120.9 153.9,120.5 158.3,120.7 162.6,120.8 167.0,120.5 171.3,120.9 175.7,120.5 180.0,120.7 184.4,120.6 188.7,120.7 193.0,120.7 197.4,120.8 201.7,120.9 206.1,120.5 210.4,120.8 214.8,120.5 219.1,120.8 223.5,120.5 227.8,120.5 232.1,120.6 236.5,120.5 240.8,120.6 245.2,120.6 249.5,120.9 253.9,120.7 258.2,120.5" fill="none" stroke="#f5c890" stroke-width="1.1" stroke-linejoin="round"/><polyline points="41.0,89.1 62.7,72.7 84.4,87.4 106.1,88.7 127.9,88.7 149.6,88.4 171.3,88.7 193.0,72.7 214.8,72.7 236.5,88.7 258.2,86.2" fill="none" stroke="#cbd67f" stroke-width="1.3" stroke-linejoin="round"/><polyline points="41.0,108.4 45.3,121.2 49.7,121.2 54.0,121.2 58.3,121.2 62.7,108.4 67.0,121.2 71.4,121.2 75.7,121.2 80.1,121.2 84.4,108.4 88.8,121.2 93.1,121.2 97.5,121.2 101.8,121.2 106.1,108.4 110.5,121.2 114.8,121.2 119.2,121.2 123.5,121.2 127.9,108.4 132.2,121.2 136.6,121.2 140.9,121.2 145.2,121.2 149.6,108.4 153.9,121.2 158.3,121.2 162.6,121.2 167.0,121.2 171.3,108.4 175.7,121.2 180.0,121.2 184.4,121.2 188.7,121.2 193.0,57.1 197.4,121.2 201.7,121.2 206.1,121.2 210.4,121.2 214.8,57.1 219.1,121.2 223.5,121.2 227.8,121.2 232.1,121.2 236.5,108.4 240.8,121.2 245.2,121.2 249.5,121.2 253.9,121.2 258.2,108.4 262.6,121.2" fill="none" stroke="#f79a9a" stroke-width="1.3" stroke-linejoin="round"/><polyline points="41.0,113.1 45.3,121.2 49.7,116.6 54.0,119.2 58.3,121.2 62.7,113.1 67.0,121.2 71.4,116.6 75.7,119.2 80.1,121.2 84.4,113.1 88.8,121.2 93.1,116.6 97.5,119.2 101.8,121.2 106.1,113.1 110.5,121.2 114.8,116.6 119.2,119.2 123.5,121.2 127.9,113.1 132.2,121.2 136.6,116.6 140.9,119.2 145.2,121.2 149.6,113.1 153.9,121.2 158.3,116.6 162.6,119.2 167.0,121.2 171.3,113.1 175.7,121.2 180.0,116.6 184.4,119.2 188.7,121.2 193.0,113.1 197.4,121.2 201.7,116.6 206.1,119.2 210.4,121.2 214.8,113.1 219.1,121.2 223.5,116.6 227.8,119.2 232.1,121.2 236.5,113.1 240.8,121.2 245.2,116.6 249.5,119.2 253.9,121.2 258.2,113.1 262.6,121.2" fill="none" stroke="#a985cf" stroke-width="1.3" stroke-linejoin="round"/><polyline points="258.2,121.2 284.3,121.2" fill="none" stroke="#7fb0c0" stroke-width="1.1" stroke-linejoin="round"/><line x1="89.20" y1="122.25" x2="89.20" y2="129.25" stroke="#9a9a9a" stroke-width="1"/><line x1="154.37" y1="122.25" x2="154.37" y2="129.25" stroke="#9a9a9a" stroke-width="1"/><line x1="219.55" y1="122.25" x2="219.55" y2="129.25" stroke="#9a9a9a" stroke-width="1"/><line x1="284.72" y1="122.25" x2="284.72" y2="129.25" stroke="#9a9a9a" stroke-width="1"/></svg><div class="xl" style="left:69.20px;top:127.65px">21:00</div><div class="xl" style="left:134.37px;top:127.65px">21:15</div><div class="xl" style="left:199.55px;top:127.65px">21:30</div><div class="xl" style="left:264.72px;top:127.65px">21:45</div><div class="yl" style="left:0px;width:26.90px;top:55.80px">5k</div><div class="yl" style="left:0px;width:26.90px;top:114.90px">0</div></div><div class="panel" style="left:371.2px;top:408.5px;width:318.2px"><div class="pt">Max Packets In</div><div class="ps">Packets / Second</div><svg class="ch" width="317.6" height="154.8" viewBox="0 0 317.6 154.8"><line x1="94.03" y1="53.50" x2="94.03" y2="121.25" stroke="#efefef" stroke-width="1"/><line x1="157.72" y1="53.50" x2="157.72" y2="121.25" stroke="#efefef" stroke-width="1"/><line x1="221.40" y1="53.50" x2="221.40" y2="121.25" stroke="#efefef" stroke-width="1"/><line x1="285.09" y1="53.50" x2="285.09" y2="121.25" stroke="#efefef" stroke-width="1"/><line x1="46.05" y1="69.70" x2="300.80" y2="69.70" stroke="#efefef" stroke-width="1"/><line x1="46.05" y1="121.25" x2="300.80" y2="121.25" stroke="#b0b0b0" stroke-width="1.6"/><polyline points="46.9,121.2 51.1,121.1 55.4,120.9 59.6,120.6 63.9,121.1 68.1,121.1 72.4,121.0 76.6,120.5 80.9,121.1 85.1,120.5 89.4,120.6 93.6,121.1 97.8,120.7 102.1,120.8 106.3,120.8 110.6,120.2 114.8,121.2 119.1,121.2 123.3,120.3 127.6,120.8 131.8,121.0 136.1,120.9 140.3,120.9 144.6,120.3 148.8,121.0 153.0,121.0 157.3,120.7 161.5,120.7 165.8,120.3 170.0,120.4 174.3,120.9 178.5,121.0 182.8,120.4 187.0,120.2 191.3,121.2 195.5,120.5 199.7,120.4 204.0,120.6 208.2,121.0 212.5,120.4 216.7,120.5 221.0,121.1 225.2,120.6 229.5,121.0 233.7,121.2 238.0,120.9 242.2,120.9 246.5,120.8 250.7,120.6 254.9,120.4 259.2,120.3" fill="none" stroke="#9ccf9c" stroke-width="1.3" stroke-linejoin="round"/><polyline points="46.9,83.6 68.1,82.3 89.4,83.6 131.8,84.0 174.3,83.3 195.5,83.0 216.7,83.0 238.0,84.0 259.2,83.3" fill="none" stroke="#cbd67f" stroke-width="1.3" stroke-linejoin="round"/><polyline points="46.9,74.5 51.1,121.2 55.4,121.2 59.6,121.2 63.9,121.2 68.1,74.5 72.4,121.2 76.6,121.2 80.9,121.2 85.1,121.2 89.4,74.5 93.6,121.2 97.8,121.2 102.1,121.2 106.3,121.2 110.6,74.5 114.8,121.2 119.1,121.2 123.3,121.2 127.6,121.2 131.8,74.5 136.1,121.2 140.3,121.2 144.6,121.2 148.8,121.2 153.0,74.5 157.3,121.2 161.5,121.2 165.8,121.2 170.0,121.2 174.3,74.5 178.5,121.2 182.8,121.2 187.0,121.2 191.3,121.2 195.5,57.1 199.7,121.2 204.0,121.2 208.2,121.2 212.5,121.2 216.7,57.1 221.0,121.2 225.2,121.2 229.5,121.2 233.7,121.2 238.0,74.5 242.2,121.2 246.5,121.2 250.7,121.2 254.9,121.2 259.2,74.5 263.4,121.2" fill="none" stroke="#f79a9a" stroke-width="1.3" stroke-linejoin="round"/><polyline points="46.9,108.7 51.1,121.2 55.4,115.4 59.6,118.5 63.9,121.2 68.1,108.7 72.4,121.2 76.6,115.4 80.9,118.5 85.1,121.2 89.4,108.7 93.6,121.2 97.8,115.4 102.1,118.5 106.3,121.2 110.6,108.7 114.8,121.2 119.1,115.4 123.3,118.5 127.6,121.2 131.8,108.7 136.1,121.2 140.3,115.4 144.6,118.5 148.8,121.2 153.0,108.7 157.3,121.2 161.5,115.4 165.8,118.5 170.0,121.2 174.3,105.7 178.5,121.2 182.8,115.4 187.0,118.5 191.3,121.2 195.5,108.7 199.7,121.2 204.0,115.4 208.2,118.5 212.5,121.2 216.7,108.7 221.0,121.2 225.2,115.4 229.5,118.5 233.7,121.2 238.0,108.7 242.2,121.2 246.5,115.4 250.7,118.5 254.9,121.2 259.2,108.7 267.7,115.2 276.2,121.2" fill="none" stroke="#a985cf" stroke-width="1.3" stroke-linejoin="round"/><polyline points="267.7,121.2 284.7,121.2" fill="none" stroke="#7fb0c0" stroke-width="1.1" stroke-linejoin="round"/><line x1="94.03" y1="122.25" x2="94.03" y2="129.25" stroke="#9a9a9a" stroke-width="1"/><line x1="157.72" y1="122.25" x2="157.72" y2="129.25" stroke="#9a9a9a" stroke-width="1"/><line x1="221.40" y1="122.25" x2="221.40" y2="129.25" stroke="#9a9a9a" stroke-width="1"/><line x1="285.09" y1="122.25" x2="285.09" y2="129.25" stroke="#9a9a9a" stroke-width="1"/></svg><div class="xl" style="left:74.03px;top:127.65px">21:00</div><div class="xl" style="left:137.72px;top:127.65px">21:15</div><div class="xl" style="left:201.40px;top:127.65px">21:30</div><div class="xl" style="left:265.09px;top:127.65px">21:45</div><div class="yl" style="left:0px;width:32.85px;top:64.20px">500</div><div class="yl" style="left:0px;width:32.85px;top:114.90px">0</div></div><div class="panel" style="left:697.5px;top:408.5px;width:316.6px"><div class="pt">Max Packets Out</div><div class="ps">Packets / Second</div><svg class="ch" width="317.6" height="154.8" viewBox="0 0 317.6 154.8"><line x1="94.31" y1="53.50" x2="94.31" y2="121.25" stroke="#efefef" stroke-width="1"/><line x1="157.91" y1="53.50" x2="157.91" y2="121.25" stroke="#efefef" stroke-width="1"/><line x1="221.51" y1="53.50" x2="221.51" y2="121.25" stroke="#efefef" stroke-width="1"/><line x1="285.11" y1="53.50" x2="285.11" y2="121.25" stroke="#efefef" stroke-width="1"/><line x1="46.40" y1="59.70" x2="300.80" y2="59.70" stroke="#efefef" stroke-width="1"/><line x1="46.40" y1="121.25" x2="300.80" y2="121.25" stroke="#b0b0b0" stroke-width="1.6"/><polyline points="47.2,121.0 51.5,121.1 55.7,121.1 60.0,120.6 64.2,120.9 68.4,120.8 72.7,120.9 76.9,121.0 81.2,120.8 85.4,120.9 89.6,120.7 93.9,120.8 98.1,120.7 102.4,121.0 106.6,121.1 110.8,121.1 115.1,120.8 119.3,121.1 123.6,120.8 127.8,120.8 132.0,121.2 136.3,120.7 140.5,121.2 144.8,120.7 149.0,120.7 153.2,121.1 157.5,120.8 161.7,120.8 166.0,121.2 170.2,120.8 174.4,121.2 178.7,120.6 182.9,120.8 187.2,120.6 191.4,121.2 195.6,121.0 199.9,120.8 204.1,120.8 208.4,121.1 212.6,120.6 216.8,120.7 221.1,121.0 225.3,121.2 229.6,120.8 233.8,121.0 238.0,120.8 242.3,120.9 246.5,121.0 250.8,121.2 255.0,121.2 259.2,120.9" fill="none" stroke="#a8d4a0" stroke-width="1.3" stroke-linejoin="round"/><polyline points="47.2,66.4 68.4,63.0 89.6,66.0 132.0,66.4 153.2,66.4 174.4,66.4 195.6,63.0 216.8,63.0 238.0,66.4 259.2,65.7" fill="none" stroke="#cbd67f" stroke-width="1.3" stroke-linejoin="round"/><polyline points="47.2,79.0 51.5,121.2 55.7,121.2 60.0,121.2 64.2,121.2 68.4,79.0 72.7,121.2 76.9,121.2 81.2,121.2 85.4,121.2 89.6,79.0 93.9,121.2 98.1,121.2 102.4,121.2 106.6,121.2 110.8,79.0 115.1,121.2 119.3,121.2 123.6,121.2 127.8,121.2 132.0,79.0 136.3,121.2 140.5,121.2 144.8,121.2 149.0,121.2 153.2,79.0 157.5,121.2 161.7,121.2 166.0,121.2 170.2,121.2 174.4,79.0 178.7,121.2 182.9,121.2 187.2,121.2 191.4,121.2 195.6,57.1 199.9,121.2 204.1,121.2 208.4,121.2 212.6,121.2 216.8,57.1 221.1,121.2 225.3,121.2 229.6,121.2 233.8,121.2 238.0,79.0 242.3,121.2 246.5,121.2 250.8,121.2 255.0,121.2 259.2,79.0 263.5,121.2" fill="none" stroke="#f79a9a" stroke-width="1.3" stroke-linejoin="round"/><polyline points="47.2,104.3 51.5,121.2 55.7,114.5 60.0,117.9 64.2,121.2 68.4,104.3 72.7,121.2 76.9,114.5 81.2,117.9 85.4,121.2 89.6,104.3 93.9,121.2 98.1,114.5 102.4,117.9 106.6,121.2 110.8,104.3 115.1,121.2 119.3,114.5 123.6,117.9 127.8,121.2 132.0,104.3 136.3,121.2 140.5,114.5 144.8,117.9 149.0,121.2 153.2,104.3 157.5,121.2 161.7,114.5 166.0,117.9 170.2,121.2 174.4,100.9 178.7,121.2 182.9,114.5 187.2,117.9 191.4,121.2 195.6,104.3 199.9,121.2 204.1,114.5 208.4,117.9 212.6,121.2 216.8,104.3 221.1,121.2 225.3,114.5 229.6,117.9 233.8,121.2 238.0,104.3 242.3,121.2 246.5,114.5 250.8,117.9 255.0,121.2 259.2,104.3 267.7,121.2" fill="none" stroke="#a985cf" stroke-width="1.3" stroke-linejoin="round"/><polyline points="267.7,121.2 284.7,121.2" fill="none" stroke="#7fb0c0" stroke-width="1.1" stroke-linejoin="round"/><line x1="94.31" y1="122.25" x2="94.31" y2="129.25" stroke="#9a9a9a" stroke-width="1"/><line x1="157.91" y1="122.25" x2="157.91" y2="129.25" stroke="#9a9a9a" stroke-width="1"/><line x1="221.51" y1="122.25" x2="221.51" y2="129.25" stroke="#9a9a9a" stroke-width="1"/><line x1="285.11" y1="122.25" x2="285.11" y2="129.25" stroke="#9a9a9a" stroke-width="1"/></svg><div class="xl" style="left:74.31px;top:127.65px">21:00</div><div class="xl" style="left:137.91px;top:127.65px">21:15</div><div class="xl" style="left:201.51px;top:127.65px">21:30</div><div class="xl" style="left:265.11px;top:127.65px">21:45</div><div class="yl" style="left:0px;width:33.20px;top:54.20px">500</div><div class="yl" style="left:0px;width:33.20px;top:114.90px">0</div></div><div class="panel" style="left:44.9px;top:571.5px;width:317.8px"><div class="pt">CPU Credit Usage</div><div class="ps">CPU Credits</div><svg class="ch" width="317.6" height="154.8" viewBox="0 0 317.6 154.8"><line x1="84.13" y1="53.50" x2="84.13" y2="121.25" stroke="#efefef" stroke-width="1"/><line x1="150.86" y1="53.50" x2="150.86" y2="121.25" stroke="#efefef" stroke-width="1"/><line x1="217.60" y1="53.50" x2="217.60" y2="121.25" stroke="#efefef" stroke-width="1"/><line x1="284.34" y1="53.50" x2="284.34" y2="121.25" stroke="#efefef" stroke-width="1"/><line x1="33.85" y1="62.20" x2="300.80" y2="62.20" stroke="#efefef" stroke-width="1"/><line x1="33.85" y1="121.25" x2="300.80" y2="121.25" stroke="#b0b0b0" stroke-width="1.6"/><polyline points="230.5,90.8 263.4,57.0" fill="none" stroke="#5a80c4" stroke-width="1.3" stroke-linejoin="round"/><line x1="84.13" y1="122.25" x2="84.13" y2="129.25" stroke="#9a9a9a" stroke-width="1"/><line x1="150.86" y1="122.25" x2="150.86" y2="129.25" stroke="#9a9a9a" stroke-width="1"/><line x1="217.60" y1="122.25" x2="217.60" y2="129.25" stroke="#9a9a9a" stroke-width="1"/><line x1="284.34" y1="122.25" x2="284.34" y2="129.25" stroke="#9a9a9a" stroke-width="1"/></svg><div class="xl" style="left:64.13px;top:127.65px">21:00</div><div class="xl" style="left:130.86px;top:127.65px">21:15</div><div class="xl" style="left:197.60px;top:127.65px">21:30</div><div class="xl" style="left:264.34px;top:127.65px">21:45</div><div class="yl" style="left:0px;width:20.65px;top:56.70px">5</div><div class="yl" style="left:0px;width:20.65px;top:114.90px">0</div></div><div class="panel" style="left:371.2px;top:571.5px;width:318.2px"><div class="pt">CPU Credit Balance</div><div class="ps">CPU Credits</div><svg class="ch" width="317.6" height="154.8" viewBox="0 0 317.6 154.8"><line x1="94.64" y1="53.50" x2="94.64" y2="121.25" stroke="#efefef" stroke-width="1"/><line x1="158.14" y1="53.50" x2="158.14" y2="121.25" stroke="#efefef" stroke-width="1"/><line x1="221.64" y1="53.50" x2="221.64" y2="121.25" stroke="#efefef" stroke-width="1"/><line x1="285.14" y1="53.50" x2="285.14" y2="121.25" stroke="#efefef" stroke-width="1"/><line x1="46.80" y1="65.50" x2="300.80" y2="65.50" stroke="#efefef" stroke-width="1"/><line x1="46.80" y1="121.25" x2="300.80" y2="121.25" stroke="#b0b0b0" stroke-width="1.6"/><polyline points="52.7,57.2 266.1,57.2 274.1,121.2" fill="none" stroke="#7cbf74" stroke-width="1.3" stroke-linejoin="round"/><line x1="94.64" y1="122.25" x2="94.64" y2="129.25" stroke="#9a9a9a" stroke-width="1"/><line x1="158.14" y1="122.25" x2="158.14" y2="129.25" stroke="#9a9a9a" stroke-width="1"/><line x1="221.64" y1="122.25" x2="221.64" y2="129.25" stroke="#9a9a9a" stroke-width="1"/><line x1="285.14" y1="122.25" x2="285.14" y2="129.25" stroke="#9a9a9a" stroke-width="1"/></svg><div class="xl" style="left:74.64px;top:127.65px">21:00</div><div class="xl" style="left:138.14px;top:127.65px">21:15</div><div class="xl" style="left:201.64px;top:127.65px">21:30</div><div class="xl" style="left:265.14px;top:127.65px">21:45</div><div class="yl" style="left:0px;width:33.60px;top:60.00px">2.5k</div><div class="yl" style="left:0px;width:33.60px;top:114.90px">0</div></div></body></html>
